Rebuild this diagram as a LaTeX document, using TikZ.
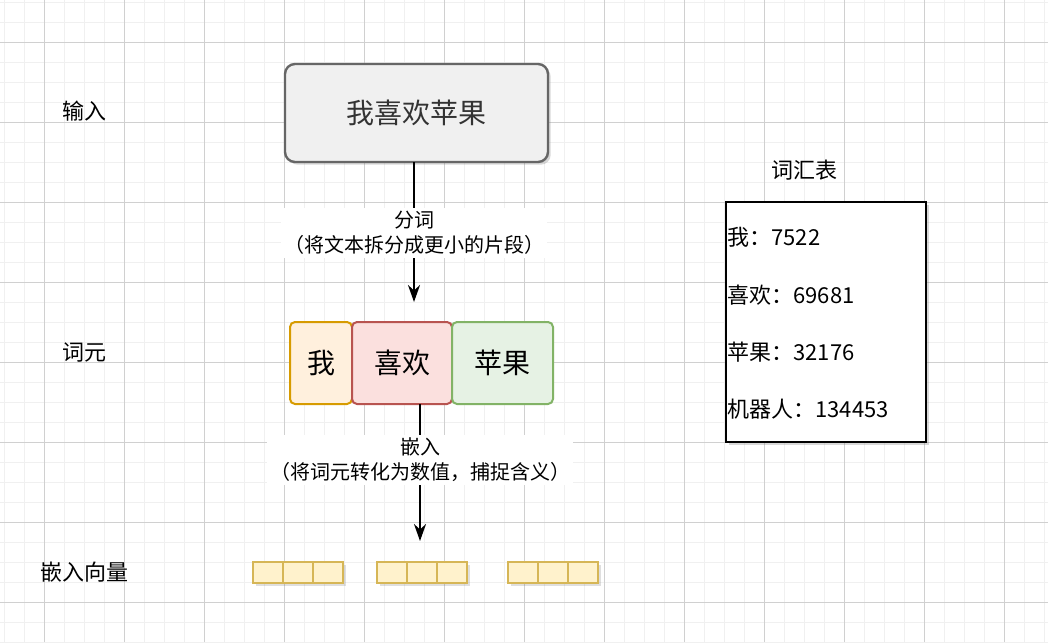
\documentclass[tikz,border=0pt]{standalone}
\usepackage{fontspec}
\setmainfont{Noto Sans CJK SC}
\usetikzlibrary{shadows,arrows.meta}
\definecolor{gminor}{HTML}{F0F0F0}
\definecolor{gmajor}{HTML}{D0D0D0}
\definecolor{vecc}{HTML}{D6B656}
\definecolor{vecf}{HTML}{FFF2CC}
\definecolor{oc}{HTML}{D79B00}\definecolor{of}{HTML}{FFF0DD}
\definecolor{rc}{HTML}{B85450}\definecolor{rf}{HTML}{FBE0DE}
\definecolor{gc}{HTML}{82B366}\definecolor{gf}{HTML}{E6F2E4}
\tikzset{
  lbl/.style={font=\fontsize{22}{26}\selectfont},
  tok/.style={draw, line width=2pt, rounded corners=5pt, font=\fontsize{28}{32}\selectfont},
  cell/.style={draw=vecc, fill=vecf, line width=2pt, minimum width=30pt, minimum height=21pt, inner sep=0pt, drop shadow={opacity=0.25}},
  arr/.style={-{Stealth[length=17pt,width=12pt]}, line width=2.4pt},
  alab/.style={fill=white, align=center, font=\fontsize{20}{25}\selectfont},
  voc/.style={anchor=west, font=\fontsize{22}{26}\selectfont}
}
\begin{document}
\begin{tikzpicture}[x=1pt,y=-1pt]
\useasboundingbox (0,0) rectangle (1048,642);
\fill[white] (0,0) rectangle (1048,642);
\foreach \x in {4,24,...,1048} \draw[gminor,line width=0.8pt] (\x,0) -- (\x,642);
\foreach \y in {2,22,...,642} \draw[gminor,line width=0.8pt] (0,\y) -- (1048,\y);
\foreach \x in {44,124,...,1048} \draw[gmajor,line width=0.8pt] (\x,0) -- (\x,642);
\foreach \y in {42,122,...,642} \draw[gmajor,line width=0.8pt] (0,\y) -- (1048,\y);

\node[lbl] (l1) at (84,111) {输入};
\node[lbl] (l2) at (84,352) {词元};
\node[lbl] (l3) at (84,572) {嵌入向量};

\node[draw=black!60, fill=black!6, line width=2.4pt, rounded corners=10pt, minimum width=263pt, minimum height=98pt, font=\fontsize{28}{32}\selectfont, text=black!80, drop shadow={opacity=0.3}] (inp) at (416.5,113) {我喜欢苹果};

\node[tok, draw=oc, fill=of, minimum width=62pt, minimum height=82pt] (t1) at (321,363) {我};
\node[tok, draw=rc, fill=rf, minimum width=100pt, minimum height=82pt] (t2) at (402,363) {喜欢};
\node[tok, draw=gc, fill=gf, minimum width=101pt, minimum height=82pt] (t3) at (502.5,363) {苹果};

\coordinate (a1s) at (414,162);
\coordinate (a1e) at (414,302);
\draw[arr] (a1s) -- (a1e);
\node[alab] (al1) at (414,233) {分词\\（将文本拆分成更小的片段）};

\coordinate (a2s) at (420,404);
\coordinate (a2e) at (420,541);
\draw[arr] (a2s) -- (a2e);
\node[alab] (al2) at (420,460) {嵌入\\（将词元转化为数值，捕捉含义）};

\foreach \gx/\n in {268/a,392/b,523/c}{
  \foreach \i in {0,1,2}{
    \node[cell] (v\n\i) at (\gx+30*\i,572.5) {};
  }
}

\node[lbl] (vt) at (804,170) {词汇表};
\node[draw, line width=2pt, fill=white, minimum width=200pt, minimum height=240pt, drop shadow={opacity=0.3}] (vb) at (826,322) {};
\node[voc] (w1) at (724,237) {我：7522};
\node[voc] (w2) at (724,295) {喜欢：69681};
\node[voc] (w3) at (724,352) {苹果：32176};
\node[voc] (w4) at (724,409) {机器人：134453};
\end{tikzpicture}
\end{document}
